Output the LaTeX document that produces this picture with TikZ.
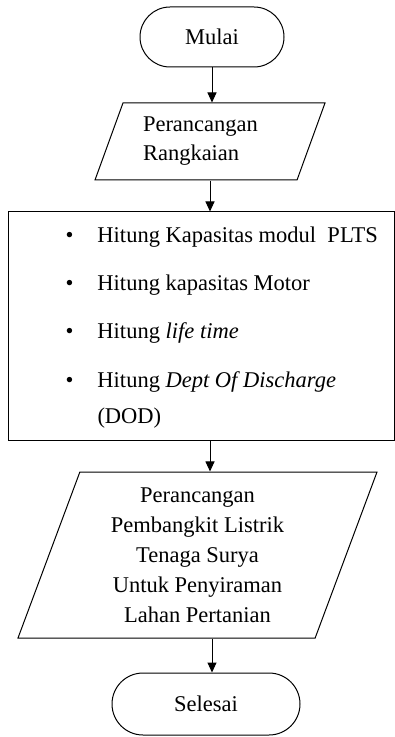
\documentclass[tikz,border=0pt]{standalone}
\usepackage{fontspec}
\setmainfont{Liberation Serif}
\usetikzlibrary{shapes.geometric, arrows.meta}

\newcommand{\butir}{\makebox[16pt][l]{\textbullet}}

\begin{document}
\begin{tikzpicture}[x=0.5pt, y=-0.5pt, line width=0.5pt,
    font=\fontsize{11.25}{15}\selectfont,
    terminal/.style={draw, rectangle, inner sep=2pt},
    io/.style={draw, trapezium, trapezium stretches body, inner sep=2pt},
    arr/.style={-{Triangle[length=5pt, width=4.5pt]}}]
    \useasboundingbox (0, 0) rectangle (395, 737);

    % draw start and end
    \node[terminal, minimum width=72pt, minimum height=30pt, rounded corners=15pt] (mulai) at (212, 37) {Mulai};
    \node[terminal, minimum width=94pt, minimum height=31pt, rounded corners=15.5pt] (selesai) at (206, 704) {Selesai};

    % draw input boxes
    \node[io, trapezium left angle=63.7, trapezium right angle=116.3,
          minimum width=115pt, minimum height=38.5pt, text width=67pt, align=left,
          font=\fontsize{11.25}{14.5}\selectfont] (rancang) at (210, 141.5)
      {Perancangan\\Rangkaian};
    \node[io, trapezium left angle=66.6, trapezium right angle=113.4,
          minimum width=179.5pt, minimum height=83pt, align=center] (plts) at (197.5, 555)
      {Perancangan\\Pembangkit Listrik\\Tenaga Surya\\Untuk Penyiraman\\Lahan Pertanian};

    % draw process box and its list
    \node[draw, rectangle, minimum width=193pt, minimum height=114pt] (hitung) at (201, 326) {};
    \node[anchor=west, align=left, inner sep=0pt] (daftar) at (65, 328)
      {\butir Hitung Kapasitas modul\ \ PLTS\\[9pt]
       \butir Hitung kapasitas Motor\\[9pt]
       \butir Hitung \textit{life time}\\[9.5pt]
       \butir Hitung \textit{Dept Of Discharge}\\[3pt]
       \hspace*{16pt}(DOD)};

    % draw arrows
    \draw[arr] (mulai) -- (mulai |- rancang.north);
    \draw[arr] (rancang) -- (rancang |- hitung.north);
    \draw[arr] (hitung.south -| rancang) -- (plts.north -| rancang);
    \draw[arr] (plts.south -| mulai) -- (selesai.north -| mulai);

\end{tikzpicture}
\end{document}
